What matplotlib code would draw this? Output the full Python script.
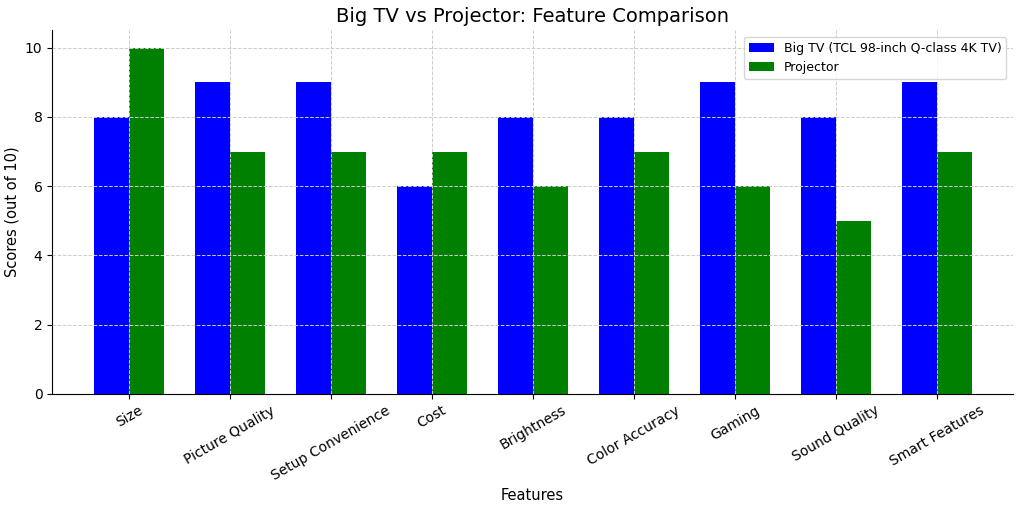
import matplotlib
matplotlib.use("Agg")
import matplotlib.pyplot as plt
import numpy as np

features = ["Size", "Picture Quality", "Setup Convenience", "Cost", "Brightness",
            "Color Accuracy", "Gaming", "Sound Quality", "Smart Features"]
tv_scores = [8, 9, 9, 6, 8, 8, 9, 8, 9]
projector_scores = [10, 7, 7, 7, 6, 7, 6, 5, 7]

fig, ax = plt.subplots(figsize=(10.24, 5.08), dpi=100)
x = np.arange(len(features))
w = 0.35
ax.bar(x - w/2, tv_scores, w, color="blue", label="Big TV (TCL 98-inch Q-class 4K TV)")
ax.bar(x + w/2, projector_scores, w, color="green", label="Projector")
ax.set_xticks(x)
ax.set_xticklabels(features, rotation=30, fontsize=10)
ax.tick_params(axis="y", labelsize=10)
ax.set_xlabel("Features", fontsize=10.5)
ax.set_ylabel("Scores (out of 10)", fontsize=10.5)
ax.set_title("Big TV vs Projector: Feature Comparison", fontsize=14)
ax.grid(True, linestyle="--", color="#cccccc", linewidth=0.7)
ax.set_axisbelow(False)
for s in ["top", "right"]:
    ax.spines[s].set_visible(False)
ax.legend(loc="upper right", fontsize=9)
ax.set_xlim(-0.76, 8.75)
fig.subplots_adjust(left=0.051, right=0.989, top=0.94, bottom=0.225)
fig.savefig("out.png")
